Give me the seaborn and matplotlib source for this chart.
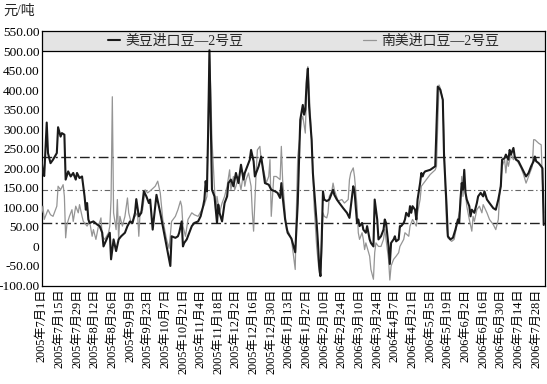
import pandas as pd
import matplotlib
matplotlib.use("Agg")
import matplotlib.pyplot as plt
from matplotlib.ticker import FuncFormatter
from matplotlib.lines import Line2D
import seaborn as sns

sns.set_style("white")
plt.rcParams["font.family"] = ["Liberation Serif", "Noto Sans CJK SC"]
plt.rcParams["axes.unicode_minus"] = False

# data: days after 2005-07-01 and spread in 元/吨
start = pd.Timestamp("2005-07-01")
series_names = ["美豆进口豆—2号豆", "南美进口豆—2号豆"]

us_days = [0, 1, 2, 4, 5, 7, 9, 12, 13, 15, 16, 18, 19, 21, 23, 25, 27, 28, 30, 32,
           33, 34, 35, 36, 37, 38, 41, 44, 46, 48, 49, 52, 54, 55, 57, 59, 61, 63, 66, 68,
           70, 72, 74, 75, 77, 79, 81, 83, 85, 86, 88, 91, 94, 98, 102,
           103, 106, 108, 109, 111, 112, 113, 115, 117, 119, 121, 124, 126, 128, 129, 130, 131, 132, 133, 135,
           137, 139, 140, 141, 143, 145, 147, 148, 150, 152, 153, 154, 156, 158, 160, 161, 163, 165, 166, 168,
           169, 172, 174, 177, 180, 182, 185, 187, 189, 190, 191, 193, 195, 198, 201, 203,
           205, 207, 208, 209, 210, 211, 212, 214, 215, 217, 218, 219, 220, 221, 222, 223, 224, 226, 228, 229,
           231, 232, 234, 236, 239, 242, 244, 246, 247, 248, 250, 251, 252, 254, 255, 257, 258, 260, 261, 263,
           264, 266, 267, 269, 271, 272, 273, 275, 276, 277, 279, 280, 281, 283, 284, 285, 287, 288, 289, 291,
           292, 293, 294, 296, 297, 298, 300,
           301, 302, 303, 304, 308, 312, 314, 316, 318, 319, 321, 322, 324, 326, 328, 330, 331, 332, 333, 334,
           335, 336, 337, 339, 340, 341, 343, 345, 346, 348, 350, 351, 353, 355, 358, 360, 362, 364, 365, 367,
           368, 370, 371, 372, 374, 375, 376, 378, 380, 382, 384, 386, 388, 390, 391, 392, 394, 396, 397, 398]
us_vals = [217, 190, 180, 317, 239, 213, 222, 239, 305, 281, 290, 286, 171, 192, 179, 188, 171, 188, 175, 179,
           154, 128, 94, 111, 69, 60, 64, 56, 52, 35, 0, 22, 35, -33, 18, -12, 18, 26, 35, 52,
           64, 60, 86, 121, 77, 86, 141, 128, 111, 120, 43, 132, 86, 18, -50,
           26, 22, 26, 35, 64, 0, 9, 18, 35, 52, 60, 64, 77, 103, 120, 167, 141, 300, 502, 145,
           128, 60, 107, 86, 64, 111, 128, 162, 171, 154, 171, 188, 162, 209, 171, 188, 205, 222, 247, 218,
           179, 205, 230, 162, 158, 145, 141, 137, 124, 162, 128, 69, 35, 20, -15, 110,
           324, 362, 337, 350, 418, 455, 358, 273, 188, 103, 60, 10, -50, -76, 18, 141, 120, 116, 120, 128,
           145, 132, 120, 111, 98, 86, 73, 128, 154, 141, 60, 69, 52, 60, 43, 35, 52, 18, 9, 0,
           120, 69, 18, 26, 43, 69, 60, 0, -45, 9, 18, 26, 13, 18, 52, 52, 60, 69, 86, 77,
           103, 86, 103, 94, 69, 120, 162,
           188, 179, 188, 192, 196, 205, 409, 401, 375, 230, 103, 26, 18, 22, 43, 69, 60, 120, 162, 145,
           196, 137, 120, 103, 77, 94, 86, 111, 128, 137, 128, 141, 120, 111, 98, 94, 120, 154, 222, 226,
           235, 222, 247, 235, 252, 230, 222, 218, 205, 192, 179, 188, 205, 218, 230, 218, 213, 205, 200, 55]

sa_days = [0, 1, 2, 4, 5, 7, 9, 12, 13, 15, 17, 18, 19, 20, 22, 24, 25, 27, 29, 30,
           32, 33, 36, 38, 40, 41, 43, 45, 47, 48, 50, 53, 54, 55, 56, 57, 59, 60, 61, 62,
           64, 66, 68, 69, 71, 74, 76, 77, 78, 80, 82, 84, 87, 90, 92, 94, 96, 99, 101,
           103, 106, 108, 110, 111, 112, 114, 116, 119, 121, 124, 127, 129, 131, 132, 133, 134, 135, 137, 138,
           139, 141, 143, 145, 147, 149, 150, 152, 153, 154, 156, 158, 160, 161, 162, 164, 166, 167, 168, 170,
           171, 173, 174, 177, 178, 180, 181, 182, 184, 186, 189, 190, 191, 192, 194, 196, 198, 201,
           202, 203, 205, 206, 207, 209, 210, 211, 212, 214, 216, 218, 220, 221, 222, 223, 224, 226, 227, 228,
           230, 231, 232, 235, 238, 240, 243, 244, 245, 247, 248, 250, 251, 252, 254, 255, 256, 257, 260, 261,
           263, 264, 265, 267, 269, 271, 272, 273, 275, 276, 277, 279, 281, 283, 284, 287, 288, 291, 292, 294,
           297, 298, 300,
           301, 304, 308, 312, 313, 314, 315, 316, 318, 319, 320, 321, 322, 325, 327, 329, 330, 332, 333, 334,
           335, 337, 339, 341, 342, 343, 345, 347, 349, 350, 353, 355, 358, 360, 362, 363, 365, 367, 368, 369,
           370, 372, 374, 375, 378, 380, 382, 384, 387, 389, 390, 391, 394, 396, 397, 398]
sa_vals = [86, 103, 69, 86, 94, 81, 77, 103, 154, 145, 158, 128, 22, 56, 77, 94, 64, 103, 86, 107,
           77, 64, 52, 64, 26, 43, 18, 52, 73, 26, 18, 35, 52, 120, 383, 86, 43, 120, 18, 77,
           52, 77, 124, 86, 60, 77, 86, 26, 86, 94, 145, 137, 145, 154, 167, 137, 69, 18, -5,
           64, 77, 94, 116, 103, 52, 26, 69, 86, 81, 77, 94, 107, 128, 315, 494, 401, 273, 145, 86,
           128, 86, 111, 128, 154, 196, 145, 179, 145, 154, 179, 145, 188, 154, 171, 188, 154, 86, 39, 188,
           247, 256, 222, 179, 162, 179, 222, 77, 179, 179, 171, 256, 171, 128, 43, 35, 18, -59,
           103, 230, 290, 324, 333, 290, 401, 460, 401, 273, 103, 0, -67, -76, -16, 86, 77, 73, 86, 128,
           141, 162, 145, 116, 120, 111, 120, 171, 188, 201, 179, 103, 35, 18, 35, 18, -8, 9, -25, -59,
           -84, -16, 9, 0, 0, 18, 43, 18, -33, -86, -50, -33, -25, -16, 0, 18, 35, 26, 52, 69,
           52, 86, 120,
           154, 167, 184, 196, 205, 315, 413, 405, 375, 273, 145, 52, 22, 13, 18, 52, 69, 103, 179, 128,
           171, 103, 69, 39, 77, 64, 94, 103, 86, 107, 86, 69, 56, 43, 69, 128, 205, 222, 188, 222,
           205, 239, 222, 230, 213, 201, 184, 162, 188, 205, 273, 273, 264, 260, 162, 86]

ref_levels = [228, 144, 60]
tick_dates = pd.date_range("2005-07-01", "2006-07-28", freq="14D")

assert len(us_days) == len(us_vals), (len(us_days), len(us_vals))
assert len(sa_days) == len(sa_vals), (len(sa_days), len(sa_vals))

us = pd.DataFrame({"date": start + pd.to_timedelta(us_days, unit="D"), "value": us_vals})
sa = pd.DataFrame({"date": start + pd.to_timedelta(sa_days, unit="D"), "value": sa_vals})

fig = plt.figure(figsize=(5.47, 3.84), dpi=100)
ax = fig.add_axes([0.0762, 0.2565, 0.9201, 0.6615])

sns.lineplot(data=sa, x="date", y="value", ax=ax, color="#959595", lw=0.9, zorder=3)
sns.lineplot(data=us, x="date", y="value", ax=ax, color="#1a1a1a", lw=1.5, zorder=4)

# reference levels
ax.axhline(ref_levels[0], color="#222222", lw=1.0, ls=(0, (7, 2.5, 1.5, 2.5)), zorder=2)
ax.axhline(ref_levels[1], color="#666666", lw=0.8, ls=(0, (5, 2.5, 1.2, 2.5)), zorder=2)
ax.axhline(ref_levels[2], color="#222222", lw=1.0, ls=(0, (7, 2.5, 1.5, 2.5)), zorder=2)

# legend band on top
ax.axhspan(500, 550, facecolor="#e4e4e4", edgecolor="none", zorder=1)
ax.axhline(500, color="black", lw=0.9, zorder=5)

handles = [Line2D([], [], color="#1a1a1a", lw=1.5), Line2D([], [], color="#959595", lw=0.9)]
ax.legend(handles, series_names, ncol=2, loc="center", bbox_to_anchor=(0.52, 0.9615),
          frameon=False, fontsize=10, handlelength=0.9, handletextpad=0.4,
          columnspacing=8.6, borderpad=0)

ax.set_ylim(-100, 550)
ax.set_yticks(range(-100, 551, 50))
ax.yaxis.set_major_formatter(FuncFormatter(lambda v, p: "0" if v == 0 else f"{v:.2f}"))
ax.set_xlim(start, start + pd.Timedelta(days=399))
ax.set_xticks(tick_dates)
ax.set_xticklabels([f"{d.year}年{d.month}月{d.day}日" for d in tick_dates], rotation=90)
ax.tick_params(direction="in", length=3, width=0.8, colors="black")
ax.tick_params(axis="y", labelsize=9.6, pad=1.5)
ax.tick_params(axis="x", labelsize=8.8, pad=2)
ax.set_xlabel("")
ax.set_ylabel("")
for s in ax.spines.values():
    s.set_color("black")
    s.set_linewidth(0.9)

fig.text(0.006, 0.972, "元/吨", fontsize=10, va="center", ha="left")

fig.savefig("out.png", dpi=100)
